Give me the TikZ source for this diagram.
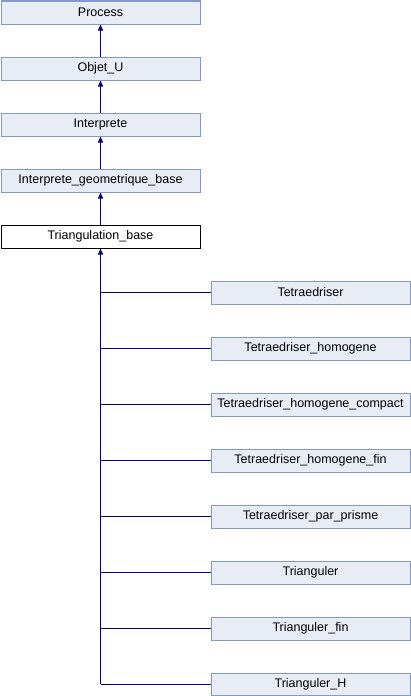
\documentclass[tikz,border=0pt]{standalone}
\usepackage{fontspec}
\setmainfont{Liberation Sans}
\usetikzlibrary{arrows.meta}
\definecolor{boxfill}{HTML}{E8ECF5}
\definecolor{boxline}{HTML}{8498CC}
\definecolor{edge}{HTML}{000088}
\begin{document}
\begin{tikzpicture}[x=1pt,y=-1pt,
  cls/.style={draw=boxline,fill=boxfill,line width=1pt,minimum width=199pt,minimum height=23pt,inner sep=0pt,font=\fontsize{12.5}{14}\selectfont,anchor=north west},
  cur/.style={cls,draw=black,fill=white},
  inh/.style={draw=edge,line width=1pt,-{Triangle[width=5pt,length=6pt]}},
  ln/.style={draw=edge,line width=1pt}]
\useasboundingbox (0,0) rectangle (410,696);
\node[cls] (p) at (0.5,0.5) {Process};
\node[cls] (o) at (0.5,56.5) {Objet\_U};
\node[cls] (i) at (0.5,112.5) {Interprete};
\node[cls] (g) at (0.5,168.5) {Interprete\_geometrique\_base};
\node[cur] (t) at (0.5,224.5) {Triangulation\_base};
\node[cls] (c1) at (210.5,280.5) {Tetraedriser};
\node[cls] (c2) at (210.5,336.5) {Tetraedriser\_homogene};
\node[cls] (c3) at (210.5,392.5) {Tetraedriser\_homogene\_compact};
\node[cls] (c4) at (210.5,448.5) {Tetraedriser\_homogene\_fin};
\node[cls] (c5) at (210.5,504.5) {Tetraedriser\_par\_prisme};
\node[cls] (c6) at (210.5,560.5) {Trianguler};
\node[cls] (c7) at (210.5,616.5) {Trianguler\_fin};
\node[cls,minimum height=22.5pt] (c8) at (210.5,672.5) {Trianguler\_H};
\draw[inh] (o.north) -- (p.south);
\draw[inh] (i.north) -- (o.south);
\draw[inh] (g.north) -- (i.south);
\draw[inh] (t.north) -- (g.south);
\coordinate (b) at (t.south |- c8.west);
\draw[inh] (b) -- (t.south);
\foreach \c in {c1,c2,c3,c4,c5,c6,c7,c8}{
  \draw[ln] (t.south |- \c.west) -- (\c.west);
}
\end{tikzpicture}
\end{document}
